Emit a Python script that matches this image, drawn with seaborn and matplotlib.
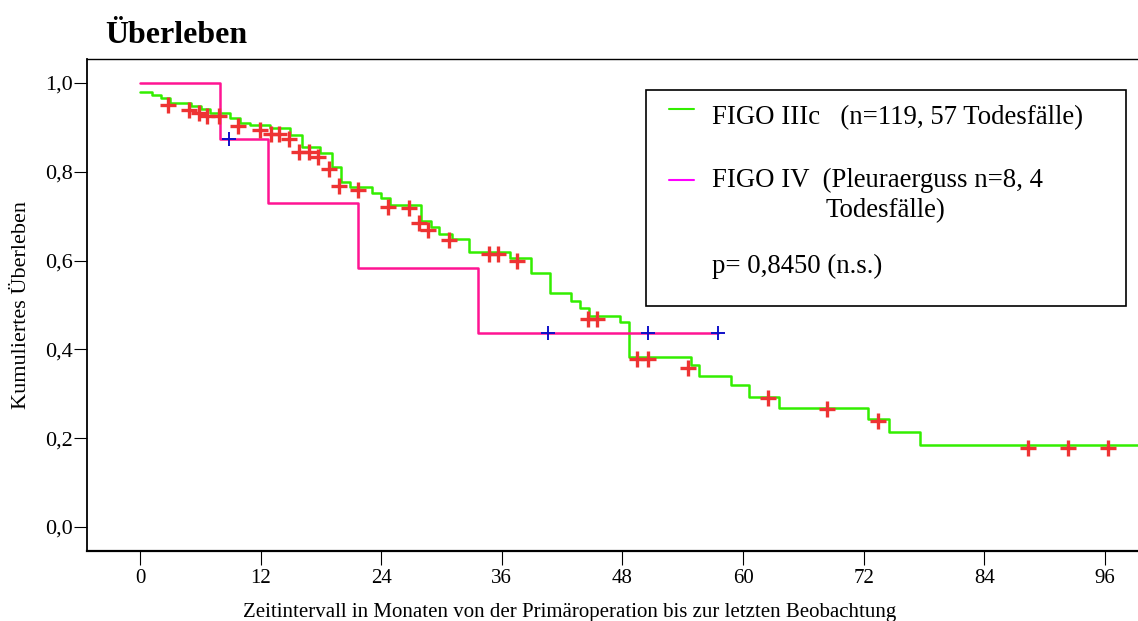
import numpy as np
import pandas as pd
import matplotlib
matplotlib.use("Agg")
import matplotlib.pyplot as plt
import seaborn as sns
from matplotlib.lines import Line2D
from matplotlib.patches import Rectangle

# ---------------- data ----------------
# FIGO IIIc Kaplan-Meier step curve: event times (months) and survival after each step
g3_times = [0.0, 1.16, 2.12, 3.03, 5.07, 6.07, 6.97, 8.96, 9.95, 10.95, 12.94, 14.93,
            16.09, 17.91, 19.07, 19.97, 20.90, 23.06, 23.98, 24.88, 27.93, 28.93,
            29.78, 31.01, 32.77, 36.82, 38.88, 40.80, 42.86, 43.78, 44.71, 47.76,
            48.69, 54.80, 55.65, 58.76, 60.60, 63.58, 72.47, 74.56, 77.61, 100.0]
g3_surv = [0.980, 0.972, 0.967, 0.956, 0.948, 0.941, 0.933, 0.922, 0.911, 0.905, 0.899,
           0.883, 0.855, 0.842, 0.811, 0.778, 0.765, 0.753, 0.740, 0.725, 0.690, 0.676,
           0.661, 0.649, 0.620, 0.605, 0.571, 0.526, 0.510, 0.494, 0.475, 0.461,
           0.384, 0.365, 0.339, 0.319, 0.293, 0.269, 0.243, 0.215, 0.184, 0.184]
# FIGO IIIc censored observations
g3_cens_t = [2.82, 4.91, 5.87, 6.70, 7.89, 9.78, 11.94, 13.00, 13.86, 14.86, 15.85,
             16.85, 17.74, 18.81, 19.83, 21.66, 24.68, 26.80, 27.76, 28.69, 30.78,
             34.76, 35.65, 37.48, 44.58, 45.47, 49.42, 50.58, 54.56, 62.52, 68.33,
             73.46, 88.39, 92.37, 96.35]
g3_cens_s = [0.950, 0.939, 0.932, 0.926, 0.926, 0.904, 0.894, 0.885, 0.885, 0.874,
             0.845, 0.845, 0.834, 0.806, 0.768, 0.759, 0.720, 0.719, 0.685, 0.669,
             0.646, 0.614, 0.614, 0.600, 0.469, 0.469, 0.378, 0.378, 0.358, 0.290,
             0.265, 0.239, 0.177, 0.177, 0.177]

# FIGO IV (Pleuraerguss) step curve
g4_times = [0.0, 7.96, 12.77, 21.70, 33.60, 57.54]
g4_surv = [1.0, 0.875, 0.729, 0.583, 0.4375, 0.4375]
g4_cens_t = [8.86, 40.63, 50.58, 57.54]
g4_cens_s = [0.875, 0.4375, 0.4375, 0.4375]

series_labels = ["FIGO IIIc", "FIGO IV"]
xticks = [0, 12, 24, 36, 48, 60, 72, 84, 96]
yticks = [0.0, 0.2, 0.4, 0.6, 0.8, 1.0]
ytick_labels = ["0,0", "0,2", "0,4", "0,6", "0,8", "1,0"]

title = "Überleben"
xlabel = "Zeitintervall in Monaten von der Primäroperation bis zur letzten Beobachtung"
ylabel = "Kumuliertes Überleben"
legend_1 = "FIGO IIIc   (n=119, 57 Todesfälle)"
legend_2a = "FIGO IV  (Pleuraerguss n=8, 4"
legend_2b = "Todesfälle)"
legend_3 = "p= 0,8450 (n.s.)"

# ---------------- styling ----------------
sns.set_theme(style="white")
plt.rcParams["font.family"] = ["Liberation Serif", "DejaVu Serif"]
plt.rcParams["text.color"] = "black"

GREEN = "#33ee00"
PINK = "#ff1493"
RED = "#ee3333"
BLUE = "#1010c8"

W, H = 1138, 621
fig = plt.figure(figsize=(W / 100, H / 100), dpi=100)
fig.patch.set_facecolor("white")

def fx(px):
    return px / W

def fy(py):
    return 1 - py / H

ax = fig.add_axes([fx(87), fy(551), fx(1138) - fx(87), fy(58.8) - fy(551)])
ax.set_facecolor("white")

df_lines = pd.concat([
    pd.DataFrame({"t": g3_times, "s": g3_surv, "grp": series_labels[0]}),
    pd.DataFrame({"t": g4_times, "s": g4_surv, "grp": series_labels[1]}),
], ignore_index=True)

sns.lineplot(data=df_lines, x="t", y="s", hue="grp",
             palette={series_labels[0]: GREEN, series_labels[1]: PINK},
             estimator=None, sort=False, drawstyle="steps-post",
             linewidth=1.8, legend=False, ax=ax)

df_c3 = pd.DataFrame({"t": g3_cens_t, "s": g3_cens_s})
df_c4 = pd.DataFrame({"t": g4_cens_t, "s": g4_cens_s})
sns.scatterplot(data=df_c3, x="t", y="s", marker="+", s=140, color=RED,
                linewidth=2.4, ax=ax, zorder=5)
sns.scatterplot(data=df_c4, x="t", y="s", marker="+", s=95, color=BLUE,
                linewidth=1.4, ax=ax, zorder=5)

ax.set_xlim(-5.27, 99.3)
ax.set_ylim(-0.054, 1.0545)
ax.set_xticks(xticks)
ax.set_xticklabels([str(v) for v in xticks], fontsize=15)
ax.set_yticks(yticks)
ax.set_yticklabels(ytick_labels, fontsize=16)
ax.set_xlabel("")
ax.set_ylabel("")

ax.spines["right"].set_visible(False)
ax.spines["top"].set_visible(True)
ax.spines["top"].set_linewidth(1.0)
ax.spines["left"].set_linewidth(1.3)
ax.spines["bottom"].set_linewidth(1.6)
for side in ["top", "left", "bottom"]:
    ax.spines[side].set_color("black")
ax.tick_params(axis="x", direction="out", length=10, width=0.8, pad=3,
               bottom=True, colors="black")
ax.tick_params(axis="y", direction="out", length=9.5, width=0.8, pad=1,
               left=True, colors="black")

# title and axis labels
fig.text(fx(105), fy(43), title, fontsize=23, fontweight="bold", ha="left",
         va="baseline")
fig.text(fx(570), fy(617), xlabel, fontsize=15, ha="center", va="baseline")
fig.text(fx(22), fy(305), ylabel, fontsize=16, ha="center", va="center",
         rotation=90)

# legend box
box = Rectangle((fx(646), fy(306)), fx(1126) - fx(646), fy(90) - fy(306),
                transform=fig.transFigure, facecolor="white", edgecolor="black",
                linewidth=1.2, zorder=10)
fig.add_artist(box)
fig.add_artist(Line2D([fx(669), fx(694)], [fy(108.5), fy(108.5)],
                      transform=fig.transFigure, color=GREEN, linewidth=1.5,
                      zorder=11))
fig.add_artist(Line2D([fx(669), fx(694)], [fy(180), fy(180)],
                      transform=fig.transFigure, color="#ff00ff", linewidth=1.5,
                      zorder=11))
leg_fs = 19.3
fig.text(fx(712), fy(124), legend_1, fontsize=leg_fs, ha="left", va="baseline", zorder=12)
fig.text(fx(712), fy(187), legend_2a, fontsize=leg_fs, ha="left", va="baseline", zorder=12)
fig.text(fx(826), fy(217), legend_2b, fontsize=leg_fs, ha="left", va="baseline", zorder=12)
fig.text(fx(712), fy(273), legend_3, fontsize=leg_fs, ha="left", va="baseline", zorder=12)

fig.savefig("out.png", dpi=100, facecolor="white")
